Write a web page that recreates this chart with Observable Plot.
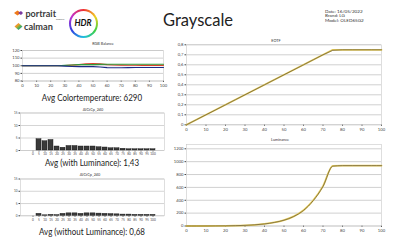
<!DOCTYPE html>
<html><head><meta charset="utf-8">
<script src="https://cdn.jsdelivr.net/npm/d3@7"></script>
<script src="https://cdn.jsdelivr.net/npm/@observablehq/plot@0.6"></script>
<style>
body{margin:0;background:#fff;}
#root{position:relative;width:400px;height:240px;overflow:hidden;font-family:Lato,"Open Sans",sans-serif;color:#222;background:#fff}
.abs{position:absolute;white-space:nowrap;line-height:1}
.ctitle{font-size:3.8px;color:#333;transform:translateX(-50%)}
.avg{font-size:9.5px;color:#222;transform:translateX(-50%) scaleX(0.84)}
svg{overflow:visible}
</style></head><body><div id="root"></div>
<script>
// ---------- data ----------
const steps = [0,5,10,15,20,25,30,35,40,45,50,55,60,65,70,75,80,85,90,95,100];
const rgbRed   = [100,100,100,100,100,100,100.3,100.8,101.5,102.5,103,102.5,101.5,101,100.8,100.6,100.6,100.5,100.5,100.5,100.5];
const rgbGreen = [100,100,100,100,100,100,100.5,101,101.5,101.5,101.5,101.8,102,102,102,102,102,102,102,102,102];
const rgbBlue  = [100,100,100,100,100,100,99.5,99,98.8,98.8,98.8,98.3,97.5,97.3,97.3,97.5,97.7,97.7,97.7,97.7,97.7];
const barCats = ["0","5","10","15","20","25","30","35","40","45","50","55","60","65","70","75","80","85","90","95","100"];
const dWithLum    = [0,4.5,3.7,4.2,1.6,1.1,1.8,1.8,1.6,1.6,1.6,1.3,1.2,0.9,0.9,0.7,0.5,0.5,0.5,0.5,0.5];
const dWithoutLum = [0,0.8,0.2,0.4,0.3,0.8,1.0,1.0,0.8,1.0,1.0,0.9,0.8,0.7,0.6,0.5,0.5,0.4,0.4,0.4,0.4];
const eotfTarget   = [0,0.05,0.1,0.15,0.2,0.25,0.3,0.35,0.4,0.45,0.5,0.55,0.6,0.65,0.7,0.75,0.75,0.75,0.75,0.75,0.75];
const eotfMeasured = [0,0.05,0.1,0.15,0.2,0.25,0.3,0.35,0.4,0.45,0.5,0.55,0.6,0.65,0.7,0.745,0.75,0.75,0.75,0.75,0.75];
const lumTarget   = [0,0.05,0.3,1,2.4,5,10,18,33,56,92,150,245,400,620,935,940,940,940,940,940];
const lumMeasured = [0,0.05,0.3,1,2.4,5,10,18,32,55,90,148,242,395,615,930,938,938,938,938,938];
const xTicks = [0,10,20,30,40,50,60,70,80,90,100];
const rgbTicks = [80,90,100,110,120];
const dTicks = [0,5,10,15];
const eotfTicks = [0,0.1,0.2,0.3,0.4,0.5,0.6,0.7,0.8];
const lumTicks = [0,200,400,600,800,1000,1200];
const titles = {rgb:"RGB Balance", d1:"ΔICtCp_240", d2:"ΔICtCp_240", eotf:"EOTF", lum:"Luminance"};
const avgTexts = ["Avg Colortemperature: 6290","Avg (with Luminance): 1,43","Avg (without Luminance): 0,68"];
const info = ["Date: 16/05/2022","Brand: LG","Model: OLED65G2"];

// ---------- helpers ----------
const root = document.getElementById("root");
function place(el, left, top){ el.style.position="absolute"; el.style.left=left+"px"; el.style.top=top+"px"; root.appendChild(el); return el; }
function txt(s, cls, left, top, extra){ const d=document.createElement("div"); d.className="abs "+(cls||""); d.textContent=s; d.style.left=left+"px"; d.style.top=top+"px"; if(extra) Object.assign(d.style, extra); root.appendChild(d); return d; }
const baseStyle = {fontFamily:"Lato, sans-serif", fontSize:"4.2px", color:"#444", background:"transparent", overflow:"visible"};
const comma = d => String(d).replace(".", ",");
const plain = d => String(d);

// ---------- header ----------
const logo = document.createElement("div");
logo.innerHTML = `<svg width="110" height="40" xmlns="http://www.w3.org/2000/svg">
 <defs><linearGradient id="cg" x1="0" x2="1" y1="0" y2="1"><stop offset="0" stop-color="#e04060"/><stop offset="0.35" stop-color="#f0a020"/><stop offset="0.65" stop-color="#40b060"/><stop offset="1" stop-color="#3060d0"/></linearGradient></defs>
 <path d="M14 13 L17.5 10.5 L21 13 L17.5 15.5 Z" fill="#f07a1a"/><path d="M18 13 L21 11 L23 13 L21 15 Z" fill="#7a3aa0"/>
 <text x="25.5" y="16.5" font-family="Lato" font-weight="700" font-size="9" fill="#3c3c3c">portrait</text>
 <text x="56" y="20" font-family="Lato" font-size="2.4" fill="#555">displays</text>
 <path d="M14.5 26.5 L18.5 23 L22.5 26.5 L18.5 30 Z" fill="url(#cg)"/>
 <text x="24" y="30" font-family="Lato" font-weight="700" font-size="9.2" fill="#3c3c3c">calman</text>
</svg>`;
place(logo, 0, 0);
const hdr = document.createElement("div");
Object.assign(hdr.style,{width:"29px",height:"29px",borderRadius:"50%",background:"conic-gradient(#f03030,#f0d020,#40d040,#20c0e0,#3040e0,#c030d0,#f03030)",display:"flex",alignItems:"center",justifyContent:"center"});
hdr.innerHTML = `<div style="width:25px;height:25px;border-radius:50%;background:#fff;display:flex;align-items:center;justify-content:center;font:italic 700 8.5px Lato, sans-serif;color:#111">HDR</div>`;
place(hdr, 68.5, 8.5);
txt("Grayscale","",163,12,{fontSize:"16.5px",color:"#222"});
info.forEach((s,i)=>txt(s,"",325,8.5+i*4.7,{fontSize:"4.6px",color:"#333"}));

// ---------- RGB balance ----------
const rgbData = [];
steps.forEach((x,i)=>{ rgbData.push({x,y:rgbRed[i],c:"R"}); rgbData.push({x,y:rgbGreen[i],c:"G"}); rgbData.push({x,y:rgbBlue[i],c:"B"}); });
const rgb = Plot.plot({
  width:170, height:50, marginLeft:22, marginRight:7, marginTop:10, marginBottom:9.5,
  style: baseStyle,
  x:{domain:[0,100], ticks:xTicks, tickSize:1.5, tickPadding:1.5, label:null},
  y:{domain:[80,120], ticks:rgbTicks, tickSize:1.5, tickPadding:1.5, label:null},
  color:{domain:["R","G","B"], range:["#d8402c","#2f9a3a","#1d2a86"]},
  marks:[
    Plot.gridY(rgbTicks,{stroke:"#b0b0b0", strokeOpacity:1, strokeWidth:0.6}),
    Plot.frame({stroke:"#c8c8c8", strokeWidth:0.6}),
    Plot.line(rgbData,{x:"x", y:"y", stroke:"c", strokeWidth:1.1})
  ]
});
place(rgb, 0, 40);
txt(titles.rgb,"ctitle",103,42);
txt(avgTexts[0],"avg",92,93);

// ---------- ΔICtCp bar charts ----------
function barChart(vals, top, mTop, mBottom){
  const data = barCats.map((c,i)=>({c, v:vals[i]}));
  return place(Plot.plot({
    width:170, height:52, marginLeft:20, marginRight:6, marginTop:mTop, marginBottom:mBottom,
    style: {...baseStyle, fontSize:"3.1px"},
    x:{domain:barCats, padding:0.22, tickSize:1.5, tickPadding:1, label:null},
    y:{domain:[0,15], ticks:dTicks, tickSize:1.5, tickPadding:1.5, label:null},
    marks:[
      Plot.gridY(dTicks,{stroke:"#b8b8b8", strokeOpacity:1, strokeWidth:0.6}),
      Plot.frame({stroke:"#c8c8c8", strokeWidth:0.6}),
      Plot.barY(data,{x:"c", y:"v", fill:"#3a3a3a", stroke:"#111", strokeWidth:0.4})
    ]
  }), 0, top);
}
barChart(dWithLum, 105, 7.5, 7);
txt(titles.d1,"ctitle",93,107.5);
txt(avgTexts[1],"avg",92,157.5);
barChart(dWithoutLum, 170, 8.5, 6.7);
txt(titles.d2,"ctitle",90,172.5);
txt(avgTexts[2],"avg",92,226.5);

// ---------- EOTF ----------
const eotfData = [];
steps.forEach((x,i)=>{ eotfData.push({x,y:eotfTarget[i],s:"Target"}); eotfData.push({x,y:eotfMeasured[i],s:"Measured"}); });
const eotf = Plot.plot({
  width:240, height:100, marginLeft:26, marginRight:19, marginTop:9.3, marginBottom:10.7,
  style: baseStyle,
  x:{domain:[0,100], ticks:xTicks, tickSize:1.5, tickPadding:2, label:null},
  y:{domain:[0,0.8], ticks:eotfTicks, tickFormat:comma, tickSize:1.5, tickPadding:1.5, label:null},
  marks:[
    Plot.gridY(eotfTicks,{stroke:"#b0b0b0", strokeOpacity:1, strokeWidth:0.6}),
    Plot.frame({stroke:"#c8c8c8", strokeWidth:0.6}),
    Plot.line(eotfData.filter(d=>d.s==="Target"),{x:"x", y:"y", stroke:"#e9cf5a", strokeWidth:1.8}),
    Plot.line(eotfData.filter(d=>d.s==="Measured"),{x:"x", y:"y", stroke:"#6e6140", strokeWidth:0.8})
  ]
});
place(eotf, 160, 35);
txt(titles.eotf,"ctitle",276,39);

// ---------- Luminance ----------
const lumData = [];
steps.forEach((x,i)=>{ lumData.push({x,y:lumTarget[i],s:"Target"}); lumData.push({x,y:lumMeasured[i],s:"Measured"}); });
const lum = Plot.plot({
  width:240, height:105, marginLeft:26, marginRight:19, marginTop:13.8, marginBottom:9.5,
  style: baseStyle,
  x:{domain:[0,100], ticks:xTicks, tickSize:1.5, tickPadding:2, label:null},
  y:{domain:[0,1270], ticks:lumTicks, tickFormat:plain, tickSize:1.5, tickPadding:1.5, label:null},
  marks:[
    Plot.gridY(lumTicks,{stroke:"#b0b0b0", strokeOpacity:1, strokeWidth:0.6}),
    Plot.frame({stroke:"#c8c8c8", strokeWidth:0.6}),
    Plot.line(lumData.filter(d=>d.s==="Target"),{x:"x", y:"y", stroke:"#e9cf5a", strokeWidth:1.8, curve:"monotone-x"}),
    Plot.line(lumData.filter(d=>d.s==="Measured"),{x:"x", y:"y", stroke:"#6e6140", strokeWidth:0.8, curve:"monotone-x"})
  ]
});
place(lum, 160, 130);
txt(titles.lum,"ctitle",280,138);
</script></body></html>
